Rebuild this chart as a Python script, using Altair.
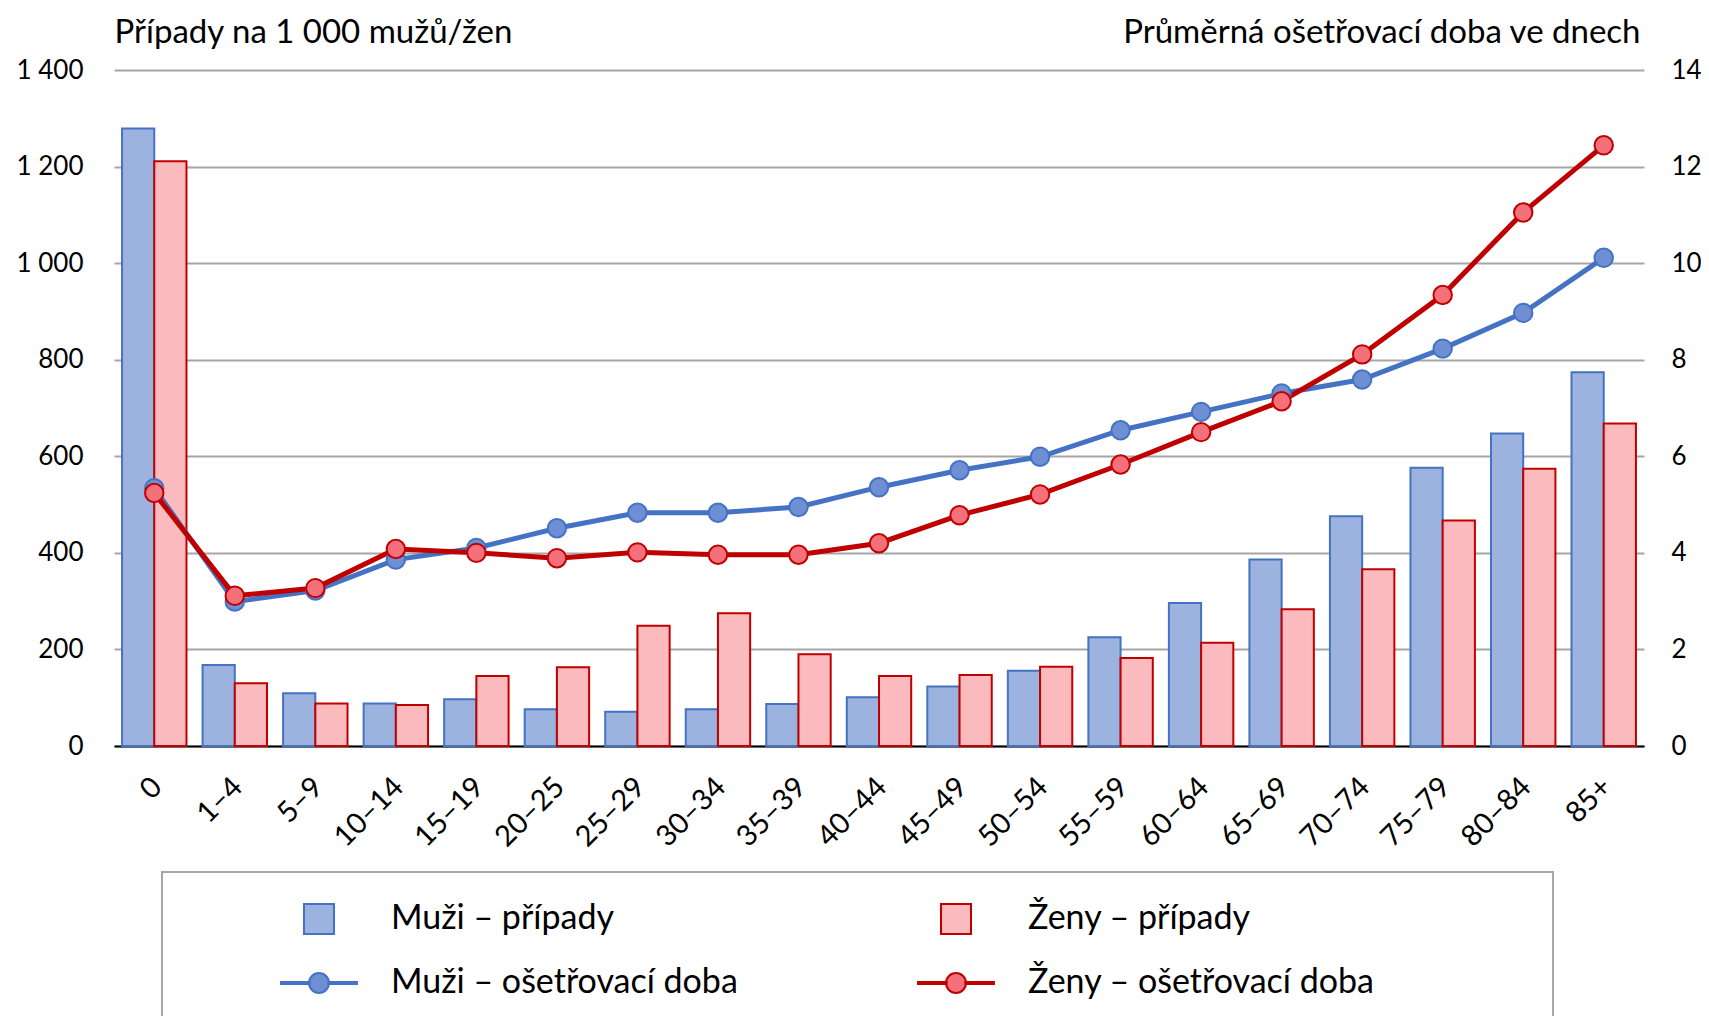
import altair as alt
import pandas as pd

ages = ["0", "1–4", "5–9", "10–14", "15–19", "20–25", "25–29", "30–34", "35–39", "40–44",
        "45–49", "50–54", "55–59", "60–64", "65–69", "70–74", "75–79", "80–84", "85+"]
muzi_pripady = [1279, 168, 109, 88, 97, 76, 71, 76, 87, 101, 123, 156, 225, 296, 386, 476, 576, 647, 774]
zeny_pripady = [1211, 130, 88, 85, 145, 163, 249, 275, 190, 145, 147, 164, 182, 214, 283, 366, 467, 574, 668]
muzi_doba = [5.34, 2.99, 3.22, 3.86, 4.10, 4.51, 4.83, 4.83, 4.95, 5.36, 5.71, 5.99, 6.54, 6.92, 7.30, 7.59, 8.23, 8.97, 10.11]
zeny_doba = [5.24, 3.11, 3.27, 4.08, 4.00, 3.89, 4.01, 3.96, 3.96, 4.20, 4.78, 5.21, 5.83, 6.50, 7.14, 8.11, 9.34, 11.05, 12.44]
series_names = ["Muži – případy", "Ženy – případy", "Muži – ošetřovací doba", "Ženy – ošetřovací doba"]
left_title = "Případy na 1 000 mužů/žen"
right_title = "Průměrná ošetřovací doba ve dnech"

bars_df = pd.DataFrame({
    "age": ages * 2,
    "series": [series_names[0]] * len(ages) + [series_names[1]] * len(ages),
    "value": muzi_pripady + zeny_pripady,
})
lines_df = pd.DataFrame({
    "age": ages * 2,
    "series": [series_names[2]] * len(ages) + [series_names[3]] * len(ages),
    "days": muzi_doba + zeny_doba,
})

FONT = "Lato"
FS = 26
FS_X = 29
FS_TITLE = 33
FS_LEG = 34

fill_scale = alt.Scale(domain=series_names, range=["#9DB3DF", "#FBBBBE", "#6F8FD5", "#F4707B"])
stroke_scale = alt.Scale(domain=series_names, range=["#4472C4", "#C00000", "#4472C4", "#C00000"])

sym_expr = ("indexof(datum.value, 'případy') >= 0 ? 'M-1,-1H1V1H-1Z' : "
            "'M-2.53,-0.07H-0.62V0.07H-2.53Z M0.62,-0.07H2.53V0.07H0.62Z "
            "M0.667,0A0.667,0.667 0 1 1 -0.667,0A0.667,0.667 0 1 1 0.667,0Z'")

# invisible trailing room so the legend frame reaches as far right as in the original
NB = "\u00a0" * 17 + "\u200b"
label_expr = "indexof(datum.label, 'Ženy – o') == 0 ? datum.label + '" + NB + "' : datum.label"

legend = alt.Legend(
    title="\u00a0", titleOrient="left", titlePadding=110, titleFontSize=FS, titleFont=FONT,
    orient="none", legendX=48, legendY=802, columns=2, direction="horizontal",
    columnPadding=176, rowPadding=28, symbolSize=900, symbolStrokeWidth=2,
    symbolType={"expr": sym_expr}, labelFontSize=FS_LEG, labelFont=FONT, labelColor="#000",
    labelOffset=55, padding=30, strokeColor="#A6A6A6", fillColor="white", labelLimit=900,
    labelExpr=label_expr,
)

x_enc = alt.X(
    "age:N", sort=ages,
    scale=alt.Scale(paddingInner=0.2, paddingOuter=0.1),
    axis=alt.Axis(title=None, labelAngle=-45, labelAlign="right", labelBaseline="middle",
                  labelOffset=3, ticks=False, domainColor="#000", domainWidth=2,
                  labelFontSize=FS_X, labelFont=FONT, labelColor="#000", labelPadding=36, grid=False),
)

left_axis = alt.Axis(
    orient="left", values=list(range(0, 1401, 200)), title=left_title, titleAngle=0, titleX=0,
    titleY=-28, titleAlign="left", titleBaseline="alphabetic", titleFontSize=FS_TITLE, titleFont=FONT,
    titleFontWeight="normal", titleColor="#000",
    labelExpr="replace(format(datum.value, ','), ',', ' ')", ticks=False, domain=False,
    gridColor="#A6A6A6", gridWidth=2, labelPadding=31, labelFontSize=FS, labelFont=FONT,
    labelColor="#000",
)
right_axis = alt.Axis(
    orient="right", values=list(range(0, 15, 2)), title=right_title, titleAngle=0, titleX=-4,
    titleY=-28, titleAlign="right", titleBaseline="alphabetic", titleFontSize=FS_TITLE, titleFont=FONT,
    titleFontWeight="normal", titleColor="#000",
    ticks=False, domain=False, grid=False, labelPadding=27, labelFontSize=FS, labelFont=FONT,
    labelColor="#000",
)

bars = alt.Chart(bars_df).mark_bar(strokeWidth=2, opacity=1).encode(
    x=x_enc,
    xOffset=alt.XOffset("series:N", sort=series_names[:2]),
    y=alt.Y("value:Q", scale=alt.Scale(domain=[0, 1400]), axis=left_axis),
    fill=alt.Fill("series:N", scale=fill_scale, legend=legend),
    stroke=alt.Stroke("series:N", scale=stroke_scale, legend=legend),
)

y_right = alt.Y("days:Q", scale=alt.Scale(domain=[0, 14]), axis=right_axis)

lines = alt.Chart(lines_df).mark_line(strokeWidth=5).encode(
    x=x_enc,
    y=y_right,
    stroke=alt.Stroke("series:N", scale=stroke_scale, legend=legend),
    detail="series:N",
)
points = alt.Chart(lines_df).mark_point(shape="circle", filled=True, size=340, strokeWidth=2, opacity=1).encode(
    x=x_enc,
    y=y_right,
    fill=alt.Fill("series:N", scale=fill_scale, legend=legend),
    stroke=alt.Stroke("series:N", scale=stroke_scale, legend=legend),
)

chart = alt.layer(bars, alt.layer(lines, points)).resolve_scale(y="independent").properties(
    width=1530, height=676,
    padding={"left": 106, "top": 62, "right": 57, "bottom": 270},
    autosize="none",
).configure_view(stroke=None).configure_legend(strokeWidth=2)

chart.save("out.html", embed_options={"renderer": "svg", "actions": False})
